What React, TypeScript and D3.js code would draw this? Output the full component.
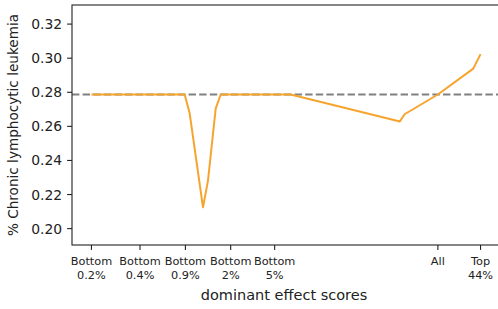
import React, { useEffect, useRef } from 'react';
import * as d3 from 'd3';

// x positions are in rank units along the score axis
const tickPositions = [0, 48.6, 94, 139.3, 183.3, 346.6, 389.3];
const tickLabels = [
  ['Bottom', '0.2%'],
  ['Bottom', '0.4%'],
  ['Bottom', '0.9%'],
  ['Bottom', '2%'],
  ['Bottom', '5%'],
  ['All', ''],
  ['Top', '44%'],
];

const seriesX = [0, 48.6, 93.3, 98.3, 111.6, 116.6, 124.3, 129.3, 139.3, 183.3, 199.3, 308.6, 313.3, 346.6, 382, 389.3];
const seriesY = [0.2787, 0.2787, 0.2787, 0.2675, 0.2125, 0.2282, 0.2704, 0.2787, 0.2787, 0.2787, 0.2787, 0.2629, 0.2671, 0.2787, 0.2939, 0.3024];

const baseline = 0.2787;
const yTicks = [0.2, 0.22, 0.24, 0.26, 0.28, 0.3, 0.32];

export default function App() {
  const svgRef = useRef<SVGSVGElement>(null);

  useEffect(() => {
    if (!svgRef.current) return;
    const svg = d3.select(svgRef.current);
    svg.selectAll('*').remove();

    const width = 498;
    const height = 309;
    const left = 72, right = 500, top = 5, bottom = 245;
    const font = 'DejaVu Sans, sans-serif';

    const xMin = d3.min(seriesX)!, xMax = d3.max(seriesX)!;
    const pad = (xMax - xMin) * 0.05;
    const x = d3.scaleLinear().domain([xMin - pad, xMax + pad]).range([left, right]);
    const y = d3.scaleLinear().domain([0.1904, 0.3312]).range([bottom, top]);

    svg.attr('width', width).attr('height', height);

    // reference line
    svg.append('line')
      .attr('x1', left).attr('x2', right)
      .attr('y1', y(baseline)).attr('y2', y(baseline))
      .attr('stroke', '#808080')
      .attr('stroke-width', 2)
      .attr('stroke-dasharray', '7.4,3.2');

    const line = d3.line<number>()
      .x((d, i) => x(seriesX[i]))
      .y(d => y(d));

    svg.append('path')
      .datum(seriesY)
      .attr('d', line)
      .attr('fill', 'none')
      .attr('stroke', '#f7a42e')
      .attr('stroke-width', 2)
      .attr('stroke-linejoin', 'round');

    // frame
    svg.append('rect')
      .attr('x', left).attr('y', top)
      .attr('width', right - left).attr('height', bottom - top)
      .attr('fill', 'none')
      .attr('stroke', '#222')
      .attr('stroke-width', 1.1);

    // y axis
    const yAxis = svg.append('g');
    yTicks.forEach(t => {
      yAxis.append('line')
        .attr('x1', left - 4.9).attr('x2', left)
        .attr('y1', y(t)).attr('y2', y(t))
        .attr('stroke', '#222').attr('stroke-width', 1.1);
      yAxis.append('text')
        .attr('x', left - 9.8)
        .attr('y', y(t))
        .attr('dy', '0.36em')
        .attr('text-anchor', 'end')
        .style('font-family', font)
        .style('font-size', '13.9px')
        .style('fill', '#222')
        .text(t.toFixed(2));
    });

    // x axis
    const xAxis = svg.append('g');
    tickPositions.forEach((t, i) => {
      xAxis.append('line')
        .attr('x1', x(t)).attr('x2', x(t))
        .attr('y1', bottom).attr('y2', bottom + 4.9)
        .attr('stroke', '#222').attr('stroke-width', 1.1);
      tickLabels[i].forEach((s, j) => {
        if (!s) return;
        xAxis.append('text')
          .attr('x', x(t))
          .attr('y', 265 + j * 14)
          .attr('text-anchor', 'middle')
          .style('font-family', font)
          .style('font-size', '11.3px')
          .style('fill', '#222')
          .text(s);
      });
    });

    svg.append('text')
      .attr('x', 284)
      .attr('y', 300)
      .attr('text-anchor', 'middle')
      .style('font-family', font)
      .style('font-size', '14.5px')
      .style('fill', '#222')
      .text('dominant effect scores');

    svg.append('text')
      .attr('transform', `translate(18,${(top + bottom) / 2}) rotate(-90)`)
      .attr('text-anchor', 'middle')
      .style('font-family', font)
      .style('font-size', '13.6px')
      .style('fill', '#222')
      .text('% Chronic lymphocytic leukemia');
  }, []);

  return (
    <svg ref={svgRef} style={{ position: 'absolute', left: 0, top: 0, background: '#fff' }} />
  );
}
